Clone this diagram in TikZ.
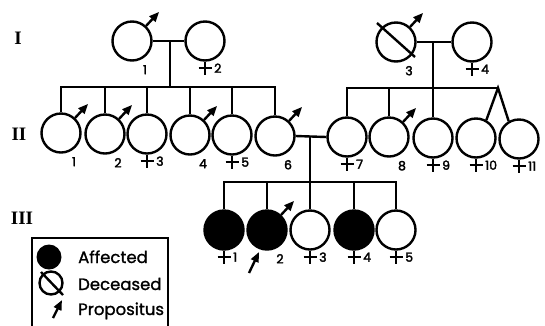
\documentclass[tikz,border=0pt]{standalone}
\usepackage{fontspec}
\setmainfont{Poppins}[AutoFakeBold=2.5]
\newfontfamily\legfont{Poppins}[FakeBold=1.2]
\newfontfamily\serf{Liberation Serif}
\usetikzlibrary{arrows.meta,calc}
\tikzset{
  ln/.style={line width=2.4pt},
  pers/.style={circle,draw,line width=2.4pt,minimum size=39pt,inner sep=0pt},
  aff/.style={pers,fill=black},
  marrow/.style={line width=2.4pt,-{Triangle[length=10pt,width=8pt]}},
  num/.style={font=\fontsize{12.5}{13}\selectfont\bfseries,inner sep=0pt},
  gen/.style={font=\serf\fontsize{19}{20}\selectfont\bfseries,inner sep=0pt},
  leg/.style={font=\legfont\fontsize{16.5}{18}\selectfont,inner sep=0pt,anchor=base west}
}
\newcommand\fem[2]{%
  \draw[ln] (#1.south) -- ++(0,13) (#1.south) ++(-6.5,6.5) -- ++(13,0);
  \node[num,anchor=west] (#1l) at ($(#1.south)+(9,6.5)$) {#2};}
\newcommand\mal[2]{%
  \draw[marrow] (#1.47) -- ++(13,-14);
  \node[num] (#1l) at ($(#1.south)+(13,8)$) {#2};}
\begin{document}
\begin{tikzpicture}[x=1pt,y=-1pt]
\useasboundingbox (0,0) rectangle (545,325);
% generation labels
\node[gen] (gI) at (18,38) {I};
\node[gen] (gII) at (19,134) {II};
\node[gen] (gIII) at (22,218) {III};
% generation I
\node[pers] (i1) at (132,41) {};
\node[pers] (i2) at (205,41) {};
\node[pers] (i3) at (396,42) {};
\node[pers] (i4) at (472,42) {};
\draw[ln] ($(i3.center)+(-19,-19)$) -- ($(i3.center)+(19,15)$);
\mal{i1}{1}
\fem{i2}{2}
\mal{i3}{3}
\fem{i4}{4}
% generation II
\node[pers] (ii1) at (61,133) {};
\node[pers] (ii2) at (105,134) {};
\node[pers] (ii3) at (147,134) {};
\node[pers] (ii4) at (190,135) {};
\node[pers] (ii5) at (232,135) {};
\node[pers] (ii6) at (275,136) {};
\node[pers] (ii7) at (347,137) {};
\node[pers] (ii8) at (389,137) {};
\node[pers] (ii9) at (433,138) {};
\node[pers] (ii10) at (476,138) {};
\node[pers] (ii11) at (519,139) {};
\mal{ii1}{1}
\mal{ii2}{2}
\fem{ii3}{3}
\mal{ii4}{4}
\fem{ii5}{5}
\mal{ii6}{6}
\fem{ii7}{7}
\mal{ii8}{8}
\fem{ii9}{9}
\fem{ii10}{10}
\fem{ii11}{11}
% generation III
\node[aff] (iii1) at (224,230) {};
\node[aff] (iii2) at (267,230) {};
\node[pers] (iii3) at (310,230) {};
\node[aff] (iii4) at (354,230) {};
\node[pers] (iii5) at (396,230) {};
\fem{iii1}{1}
\mal{iii2}{2}
\fem{iii3}{3}
\fem{iii4}{4}
\fem{iii5}{5}
\coordinate (prop) at (249,273);
\draw[marrow] (prop) -- ++(10,-21);
% family 1
\coordinate (m1) at (170,41);
\coordinate (s1) at (170,87);
\draw[ln] (i1.east) -- (i2.west);
\draw[ln] (m1) -- (s1);
\draw[ln] (ii1.north) |- (s1) -| (ii6.north);
\foreach \k in {ii2,ii3,ii4,ii5} \draw[ln] (\k.north) -- (\k.north |- s1);
% family 2
\coordinate (m2) at (433,42);
\coordinate (tw) at (498,88);
\draw[ln] (i3.east) -- (i4.west);
\draw[ln] (m2) -- (ii9.north);
\draw[ln] (ii7.north) |- (tw);
\draw[ln] (ii8.north) -- (ii8.north |- tw);
\draw[ln] (ii10.60) -- (tw) -- (ii11.120);
% family 3
\coordinate (m3) at (310,137);
\coordinate (s3) at (310,182);
\draw[ln] (ii6.east) -- (ii7.west);
\draw[ln] (m3) -- (iii3.north);
\draw[ln] (iii1.north) |- (s3) -| (iii5.north);
\foreach \k in {iii2,iii4} \draw[ln] (\k.north) -- (\k.north |- s3);
% legend
\draw[ln] (32,330) -- (32,238) -- (168,238) -- (168,330);
\node[circle,fill=black,minimum size=25pt,inner sep=0pt] (la) at (49,257) {};
\node[circle,draw,line width=2.4pt,minimum size=23pt,inner sep=0pt] (ld) at (51,283) {};
\draw[ln] ($(ld.center)+(-10,-11)$) -- ($(ld.center)+(12,12)$);
\coordinate (lp) at (53,318);
\draw[marrow] (lp) -- ++(9,-18);
\node[leg] (ta) at (78,263) {Affected};
\node[leg] (td) at (78,290) {Deceased};
\node[leg] (tp) at (78,315) {Propositus};
\end{tikzpicture}
\end{document}
